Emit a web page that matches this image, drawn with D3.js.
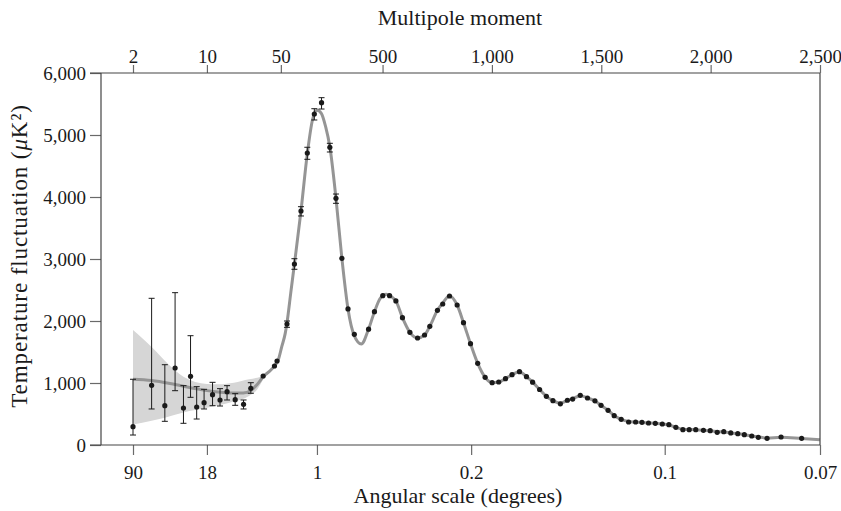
<!DOCTYPE html>
<meta charset="utf-8">
<script src="https://d3js.org/d3.v7.min.js"></script>
<style>
  body { margin: 0; background: #fff; }
  text { font-family: "Liberation Serif", "DejaVu Serif", serif; fill: #1a1a1a; }
</style>
<div id="chart"></div>
<script>

// multipole moments and D_l values
// low-l points with large error bars
var lowL  = [2, 3, 4, 5, 6, 7, 8, 9.4, 11.3, 13.3, 15.5, 18.5, 22.2, 26];
var lowD  = [295, 963, 634, 1242, 597, 1108, 613, 683, 812, 726, 860, 731, 656, 914];
var lowHi = [1060, 2366, 1295, 2457, 957, 1763, 941, 898, 1011, 909, 957, 828, 726, 1005];
var lowLo = [161, 581, 382, 876, 350, 769, 419, 581, 634, 629, 726, 640, 581, 834];

// binned high-l points
var highL = [34, 43.5, 46, 63, 97, 127, 156, 188, 221, 259, 287, 314, 342, 371, 436, 463, 501, 532, 561, 591,
             625, 660, 692, 716, 751, 775, 806, 841, 870, 902, 935, 969, 1001, 1031, 1062, 1092, 1126, 1158, 1186, 1218,
             1249, 1279, 1313, 1345, 1369, 1404, 1437, 1471, 1499, 1531, 1559, 1591, 1625, 1657, 1686, 1716, 1747, 1779, 1809, 1841,
             1873, 1902, 1932, 1967, 1998, 2030, 2060, 2092, 2124, 2154, 2188, 2218, 2258, 2322, 2416];
var highD = [1113, 1274, 1355, 1952, 2919, 3774, 4710, 5339, 5521, 4802, 3979, 3011, 2194, 1785, 1868, 2150, 2408, 2408, 2323, 2054,
             1817, 1726, 1774, 1914, 2172, 2274, 2403, 2258, 1973, 1634, 1317, 1092, 1005, 1016, 1069, 1134, 1183, 1102, 1014, 895,
             785, 715, 664, 722, 740, 801, 758, 712, 640, 560, 473, 414, 371, 371, 366, 355, 350, 339, 328, 285,
             247, 247, 247, 237, 231, 205, 215, 194, 182, 167, 145, 124, 108, 129, 108];
// error bars on the first peak (by l)
var errL  = [63, 97, 127, 156, 188, 221, 259, 287];
var errLo = [1898, 2834, 3694, 4608, 5242, 5419, 4726, 3898];
var errHi = [2000, 3005, 3844, 4802, 5424, 5602, 4866, 4048];

// best-fit model curve
var modelL = [2, 3, 5, 8, 12, 18, 22, 26, 30, 34, 40, 44, 47, 51, 55, 63, 80, 97, 127, 156,
              180, 200, 220, 240, 259, 287, 314, 342, 371, 403, 436, 463, 490, 516, 545, 561, 591, 625, 660, 692,
              716, 751, 775, 806, 841, 870, 902, 935, 969, 1001, 1031, 1062, 1092, 1126, 1158, 1186, 1218, 1249, 1279, 1313,
              1345, 1369, 1404, 1437, 1471, 1499, 1531, 1559, 1591, 1625, 1700, 1779, 1809, 1841, 1873, 1932, 1998, 2060, 2092, 2154,
              2218, 2258, 2322, 2416, 2500];
var modelD = [1060, 1040, 975, 905, 860, 838, 840, 880, 980, 1100, 1205, 1285, 1360, 1586, 1800, 1970, 2446, 2919, 3774, 4700,
              5250, 5400, 5350, 5130, 4810, 3979, 3011, 2194, 1760, 1629, 1868, 2150, 2370, 2430, 2380, 2323, 2054, 1817, 1726, 1774,
              1914, 2172, 2290, 2405, 2258, 1973, 1634, 1317, 1092, 1005, 1016, 1069, 1134, 1183, 1102, 1014, 895, 785, 715, 675,
              720, 745, 795, 760, 710, 640, 560, 475, 414, 380, 360, 339, 325, 285, 255, 245, 228, 210, 195, 167,
              130, 112, 125, 105, 86];

// cosmic variance band
var bandL  = [2, 3, 4, 6, 10, 13, 18, 25, 30, 35];
var bandHi = [1855, 1580, 1360, 1100, 984, 979, 1005, 1060, 1085, 1115];
var bandLo = [330, 390, 440, 525, 600, 640, 700, 790, 900, 1100];

// ticks
var yTicks = [0, 1000, 2000, 3000, 4000, 5000, 6000];
var topTickL = [2, 10, 50, 500, 1000, 1500, 2000, 2500];
var topTickLabels = ["2", "10", "50", "500", "1,000", "1,500", "2,000", "2,500"];
var bottomTickL = [2, 10, 200, 905, 1790, 2500];
var bottomTickLabels = ["90", "18", "1", "0.2", "0.1", "0.07"];

var margin = {top: 73, right: 21, bottom: 66, left: 101},
    width = 841 - margin.left - margin.right,
    height = 511 - margin.top - margin.bottom;

var svg = d3.select("#chart")
  .append("svg")
    .attr("width", width + margin.left + margin.right)
    .attr("height", height + margin.top + margin.bottom)
  .append("g")
    .attr("transform", "translate(" + margin.left + "," + margin.top + ")");

// log axis below the break, linear above it
var lBreak = 55, decPerL = 0.002068;
function u(l) {
  return l <= lBreak ? Math.log10(l) : Math.log10(lBreak) + (l - lBreak) * decPerL;
}

var x = d3.scaleLinear().domain([u(2), u(2500)]).range([32, width]);
var y = d3.scaleLinear().domain([0, 6000]).range([height, 0]);
function xl(l) { return x(u(l)); }

// band
var band = d3.area()
  .x(function(d, i) { return xl(bandL[i]); })
  .y0(function(d, i) { return y(bandLo[i]); })
  .y1(function(d, i) { return y(bandHi[i]); })
  .curve(d3.curveMonotoneX);
svg.append("path")
  .datum(bandL)
  .attr("d", band)
  .attr("fill", "#d6d6d6");

// model curve
var line = d3.line()
  .x(function(d, i) { return xl(modelL[i]); })
  .y(function(d, i) { return y(modelD[i]); })
  .curve(d3.curveMonotoneX);
svg.append("path")
  .datum(modelL)
  .attr("d", line)
  .attr("fill", "none")
  .attr("stroke", "#959595")
  .attr("stroke-width", 3);

// error bars
var bars = [];
lowL.forEach(function(l, i) { bars.push([l, lowLo[i], lowHi[i]]); });
errL.forEach(function(l, i) { bars.push([l, errLo[i], errHi[i]]); });

var eb = svg.append("g").attr("stroke", "#1a1a1a").attr("stroke-width", 1);
bars.forEach(function(b) {
  var cx = xl(b[0]);
  eb.append("line").attr("x1", cx).attr("x2", cx).attr("y1", y(b[1])).attr("y2", y(b[2]));
  eb.append("line").attr("x1", cx - 3).attr("x2", cx + 3).attr("y1", y(b[1])).attr("y2", y(b[1]));
  eb.append("line").attr("x1", cx - 3).attr("x2", cx + 3).attr("y1", y(b[2])).attr("y2", y(b[2]));
});

// points
var pts = lowL.map(function(l, i) { return [l, lowD[i]]; })
  .concat(highL.map(function(l, i) { return [l, highD[i]]; }));
svg.selectAll("circle.pt")
  .data(pts)
  .enter().append("circle")
    .attr("class", "pt")
    .attr("cx", function(d) { return xl(d[0]); })
    .attr("cy", function(d) { return y(d[1]); })
    .attr("r", 2.6)
    .attr("fill", "#1a1a1a");

// axes
var yAxis = svg.append("g")
  .call(d3.axisLeft(y).tickValues(yTicks).tickSize(11).tickPadding(4).tickFormat(d3.format(",")));
var topAxis = svg.append("g")
  .call(d3.axisTop(x).tickValues(topTickL.map(u)).tickSize(8).tickPadding(2)
    .tickFormat(function(d, i) { return topTickLabels[i]; }));
var bottomAxis = svg.append("g")
  .attr("transform", "translate(0," + height + ")")
  .call(d3.axisBottom(x).tickValues(bottomTickL.map(u)).tickSize(10).tickPadding(11)
    .tickFormat(function(d, i) { return bottomTickLabels[i]; }));

[yAxis, topAxis, bottomAxis].forEach(function(a) {
  a.select(".domain").remove();
  a.selectAll(".tick line").attr("stroke", "#6a6a6a").attr("stroke-width", 1.2);
  a.selectAll(".tick text").style("font-size", "19px").attr("fill", "#1a1a1a");
});

// frame
var frame = svg.append("g").attr("stroke", "#444").attr("stroke-width", 1.2);
frame.append("line").attr("x1", -11).attr("x2", width).attr("y1", 0).attr("y2", 0);
frame.append("line").attr("x1", -11).attr("x2", width).attr("y1", height).attr("y2", height);
frame.append("line").attr("x1", 0).attr("x2", 0).attr("y1", 0).attr("y2", height);
frame.append("line").attr("x1", width).attr("x2", width).attr("y1", 0).attr("y2", height);

// titles
svg.append("text")
  .attr("x", 359)
  .attr("y", -48)
  .style("text-anchor", "middle")
  .style("font-size", "22px")
  .text("Multipole moment");

svg.append("text")
  .attr("x", 357)
  .attr("y", height + 58)
  .style("text-anchor", "middle")
  .style("font-size", "22px")
  .text("Angular scale (degrees)");

var yt = svg.append("text")
  .attr("transform", "translate(" + (27 - margin.left) + "," + (height / 2 - 3) + ") rotate(-90)")
  .style("text-anchor", "middle")
  .style("font-size", "23px")
  .style("letter-spacing", "0.9px");
yt.append("tspan").text("Temperature fluctuation (");
yt.append("tspan").style("font-style", "italic").text("\u03bc");
yt.append("tspan").text("K\u00b2)");

</script>
